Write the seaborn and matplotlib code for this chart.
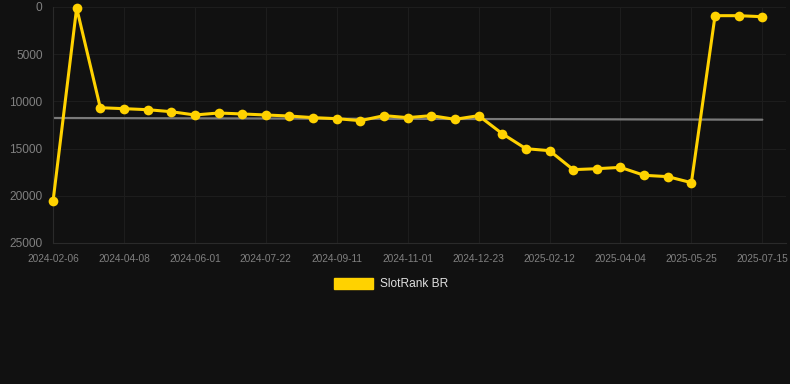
import seaborn as sns
import matplotlib.pyplot as plt
import matplotlib.patches as mpatches
import pandas as pd

# rank values, one per category step (lower is better, axis inverted)
rank = [20600, 100, 10670, 10770, 10880, 11090, 11440, 11230, 11330, 11440,
        11550, 11720, 11830, 12040, 11510, 11720, 11510, 11900, 11510, 13420,
        15010, 15220, 17230, 17130, 16990, 17830, 17970, 18610, 920, 920, 1030]
tick_labels = ["2024-02-06", "2024-04-08", "2024-06-01", "2024-07-22",
               "2024-09-11", "2024-11-01", "2024-12-23", "2025-02-12",
               "2025-04-04", "2025-05-25", "2025-07-15"]
trend_x = [0, 30]
trend_y = [11760, 11940]

bg = "#111111"
grid_c = "#1d1d1d"
axis_c = "#2a2a2a"
label_c = "#808080"
line_c = "#FFD200"

sns.set_style("dark")
plt.rcParams["font.family"] = ["Liberation Sans", "DejaVu Sans"]

df = pd.DataFrame({"idx": range(len(rank)), "rank": rank})
trend = pd.DataFrame({"idx": trend_x, "rank": trend_y})

fig = plt.figure(figsize=(7.9, 3.84), dpi=100, facecolor=bg)
ax = fig.add_axes([0.0671, 0.3672, 0.9278, 0.6146])
ax.set_facecolor(bg)

sns.lineplot(data=trend, x="idx", y="rank", ax=ax, color="#7a7a7a",
             linewidth=1.6, zorder=2)
sns.lineplot(data=df, x="idx", y="rank", ax=ax, color=line_c, linewidth=2.2,
             marker="o", markersize=7, markeredgewidth=0, zorder=3,
             clip_on=False)

ax.set_xlim(0, 31)
ax.set_ylim(25000, 0)
ax.set_yticks([0, 5000, 10000, 15000, 20000, 25000])
ax.set_xticks(range(0, 31, 3))
ax.set_xticklabels(tick_labels)
ax.grid(True, color=grid_c, linewidth=0.8)
ax.tick_params(axis="x", colors=grid_c, labelcolor=label_c, labelsize=7.3,
               length=5.5, width=0.8, pad=2.5)
ax.tick_params(axis="y", colors=grid_c, labelcolor=label_c, labelsize=8.6,
               length=5.5, width=0.8, pad=2)
ax.set_xlabel("")
ax.set_ylabel("")
for name, s in ax.spines.items():
    if name in ("left", "bottom"):
        s.set_color(axis_c)
        s.set_linewidth(0.8)
    else:
        s.set_visible(False)

handle = mpatches.Patch(color=line_c, label="SlotRank BR")
fig.legend(handles=[handle], loc="center", bbox_to_anchor=(0.495, 0.26),
           frameon=False, fontsize=8.6, labelcolor="#e0e0e0",
           handlelength=3.3, handleheight=1.0, handletextpad=0.6)

plt.savefig("out.png", dpi=100, facecolor=bg)
plt.close()
